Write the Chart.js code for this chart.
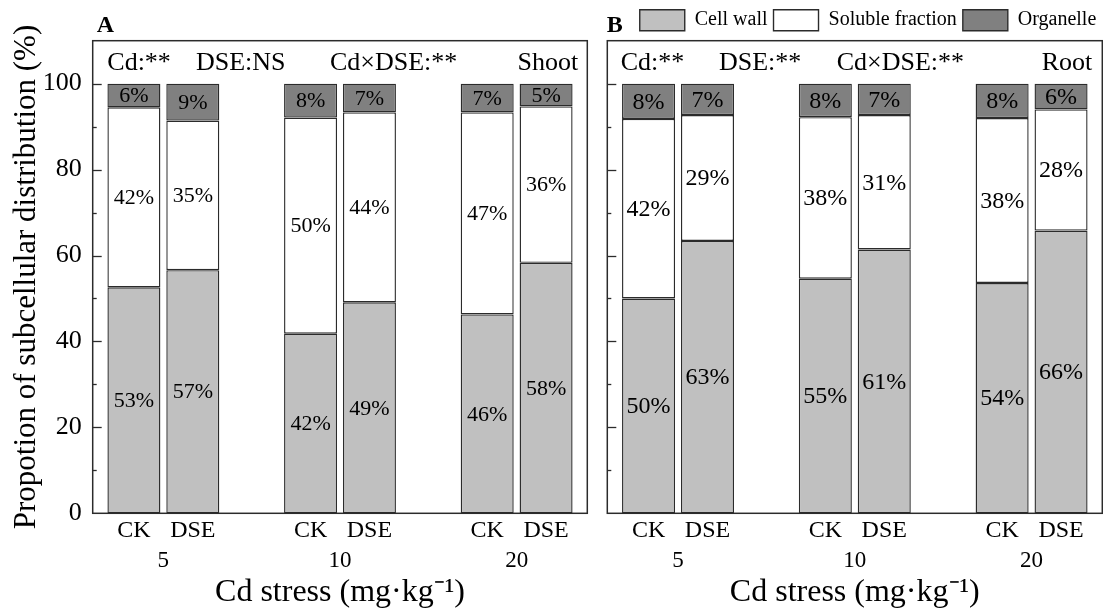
<!DOCTYPE html>
<html>
<head>
<meta charset="utf-8">
<script src="https://cdn.jsdelivr.net/npm/chart.js@4.4.0/dist/chart.umd.min.js"></script>
<style>
  body { margin: 0; background: #fff; }
  .panel { position: absolute; top: 0; }
</style>
</head>
<body>
<div class="panel" style="left:0"><canvas id="shoot" width="597" height="613"></canvas></div>
<div class="panel" style="left:597px"><canvas id="root" width="506" height="613"></canvas></div>
<script>
// --------------------------------------------------
// data, order: CK5, DSE5, CK10, DSE10, CK20, DSE20
const doses = ["5", "10", "20"];
const treatments = ["CK", "DSE"];
const fractions = ["Cell wall", "Soluble fraction", "Organelle"];

const shootCellWall = [52.6, 56.6, 41.8, 49.1, 46.3, 58.3];
const shootSoluble = [41.9, 34.8, 50.3, 44.2, 47.0, 36.4];
const shootOrganelle = [5.5, 8.6, 7.9, 6.7, 6.7, 5.3];

const rootCellWall = [50.0, 63.4, 54.6, 61.4, 53.6, 65.8];
const rootSoluble = [41.8, 29.3, 37.6, 31.3, 38.4, 28.2];
const rootOrganelle = [8.2, 7.3, 7.8, 7.3, 8.0, 6.0];

const yTickLabels = [0, 20, 40, 60, 80, 100];

const shootStats = ["Cd:**", "DSE:NS", "Cd×DSE:**"];
const rootStats = ["Cd:**", "DSE:**", "Cd×DSE:**"];

// --------------------------------------------------
Chart.defaults.font.family = "'Liberation Serif', 'Times New Roman', serif";
Chart.defaults.color = "#000";

const fills = ["#c0c0c0", "#ffffff", "#808080"];
const edge = "#2b2b2b";

// slot index of each bar: one empty slot between dose groups
const xPos = [];
doses.forEach((d, g) => {
  treatments.forEach((t, k) => xPos.push(g * (treatments.length + 1) + k));
});
const groupCenters = doses.map((d, g) => g * (treatments.length + 1) + (treatments.length - 1) / 2);

// --------------------------------------------------
const panelDecor = {
  id: "panelDecor",
  afterDatasetsDraw(chart, args, opts) {
    const { ctx, chartArea: a, scales } = chart;
    const y = scales.y;
    ctx.save();

    // percent labels inside segments
    ctx.fillStyle = "#000";
    ctx.textAlign = "center";
    ctx.textBaseline = "middle";
    ctx.font = opts.pctSize + "px 'Liberation Serif', serif";
    chart.data.datasets.forEach((ds, i) => {
      chart.getDatasetMeta(i).data.forEach((bar, j) => {
        ctx.fillText(Math.round(ds.data[j].y) + "%", bar.x, (bar.y + bar.base) / 2 + 1);
      });
    });

    // frame
    ctx.strokeStyle = edge;
    ctx.lineWidth = 1.5;
    ctx.strokeRect(a.left, a.top, a.width, a.height);

    // inward ticks on the left
    ctx.lineWidth = 1.3;
    y.ticks.forEach((t) => {
      if (t.value <= y.min || t.value >= y.max) return;
      const py = Math.round(y.getPixelForValue(t.value)) + 0.5;
      const len = yTickLabels.includes(t.value) ? 9 : 4;
      ctx.beginPath();
      ctx.moveTo(a.left, py);
      ctx.lineTo(a.left + len, py);
      ctx.stroke();
    });

    // statistics line
    ctx.font = "26px 'Liberation Serif', serif";
    ctx.textBaseline = "alphabetic";
    ctx.textAlign = "left";
    opts.stats.forEach((s, i) => ctx.fillText(s, a.left + opts.statsX[i], 70));
    ctx.textAlign = "right";
    ctx.fillText(opts.organ, a.right - opts.organInset, 70);

    // panel letter
    ctx.textAlign = "left";
    ctx.font = "bold 24px 'Liberation Serif', serif";
    ctx.fillText(opts.letter, a.left + opts.letterX, 32);
    ctx.restore();
  },
};

function makeChart(id, values, isRoot, decor) {
  const datasets = fractions.map((name, f) => ({
    label: name,
    data: values[f].map((v, j) => ({ x: xPos[j], y: v })),
    backgroundColor: fills[f],
    borderColor: edge,
    borderWidth: 1.4,
    borderSkipped: false,
    categoryPercentage: 1,
    barPercentage: 0.9,
  }));

  const xMin = xPos[0] - 0.7;
  const xMax = xPos[xPos.length - 1] + 0.7;

  return new Chart(document.getElementById(id), {
    type: "bar",
    data: { datasets },
    plugins: [panelDecor],
    options: {
      responsive: false,
      animation: false,
      layout: {
        padding: isRoot
          ? { top: 3.7, right: 0.7, left: 0, bottom: 0 }
          : { top: 40.7, right: 9.7, left: 0, bottom: 0 },
      },
      plugins: {
        legend: {
          display: isRoot,
          position: "top",
          align: "end",
          labels: { boxWidth: 45, boxHeight: 21, padding: 6, font: { size: 20 }, color: "#000" },
        },
        tooltip: { enabled: false },
        panelDecor: decor,
      },
      scales: {
        x: {
          type: "linear",
          stacked: true,
          min: xMin,
          max: xMax,
          offset: false,
          grid: { display: false, drawTicks: false },
          border: { display: false },
          afterBuildTicks: (s) => {
            s.ticks = xPos.map((v) => ({ value: v }));
          },
          afterFit: (s) => {
            s.height = 33;
          },
          ticks: {
            autoSkip: false,
            maxRotation: 0,
            padding: 3,
            font: { size: 24 },
            callback: (v) => {
              const j = xPos.indexOf(v);
              return j < 0 ? "" : treatments[j % treatments.length];
            },
          },
        },
        x2: {
          type: "linear",
          position: "bottom",
          weight: 1,
          min: xMin,
          max: xMax,
          offset: false,
          grid: { display: false, drawTicks: false },
          border: { display: false },
          afterBuildTicks: (s) => {
            s.ticks = groupCenters.map((v) => ({ value: v }));
          },
          afterFit: (s) => {
            s.height = 66.7;
          },
          ticks: {
            autoSkip: false,
            maxRotation: 0,
            padding: 1,
            font: { size: 23 },
            callback: (v) => {
              const g = groupCenters.indexOf(v);
              return g < 0 ? "" : doses[g];
            },
          },
          title: {
            display: true,
            text: "Cd stress (mg·kg⁻¹)",
            font: { size: 32 },
            padding: { top: 0, bottom: 1 },
          },
        },
        y: {
          stacked: true,
          min: 0,
          max: 110,
          grid: { display: false, drawTicks: false },
          border: { display: false },
          afterFit: (s) => {
            s.width = isRoot ? 10.3 : 92.7;
          },
          ticks: {
            display: !isRoot,
            stepSize: 10,
            padding: 11,
            font: { size: 26 },
            callback: (v) => (yTickLabels.includes(v) ? v : ""),
          },
          title: {
            display: !isRoot,
            text: "Propotion of subcellular distribution (%)",
            font: { size: 31 },
            padding: { top: 8, bottom: 0 },
          },
        },
      },
    },
  });
}

makeChart("shoot", [shootCellWall, shootSoluble, shootOrganelle], false, {
  pctSize: 22,
  stats: shootStats,
  statsX: [14.6, 103.3, 237.3],
  organ: "Shoot",
  organInset: 9,
  letter: "A",
  letterX: 4,
});

makeChart("root", [rootCellWall, rootSoluble, rootOrganelle], true, {
  pctSize: 24,
  stats: rootStats,
  statsX: [13.4, 111.7, 229.4],
  organ: "Root",
  organInset: 10,
  letter: "B",
  letterX: -0.6,
});
</script>
</body>
</html>
